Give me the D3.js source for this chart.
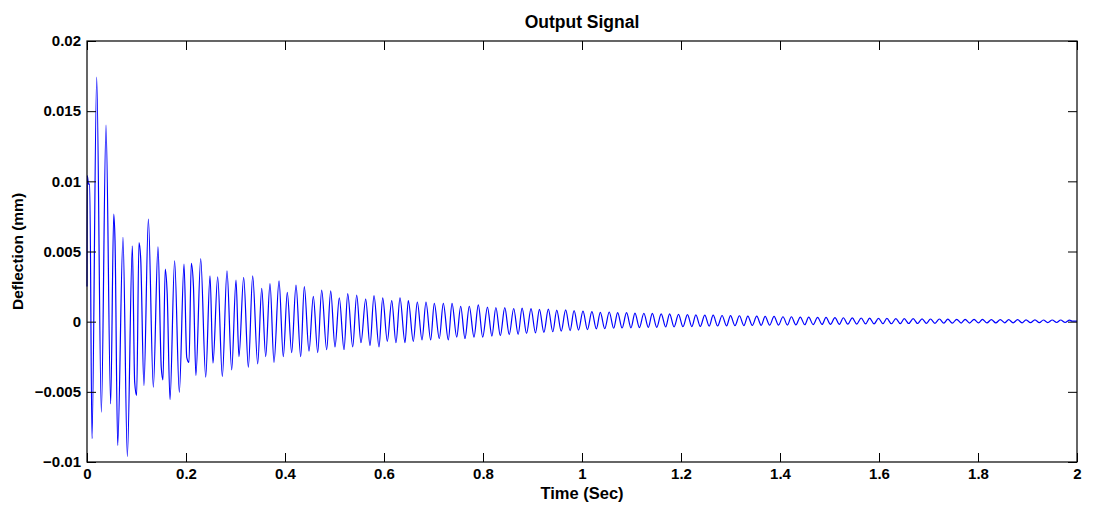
<!DOCTYPE html>
<html><head><meta charset="utf-8">
<script src="https://cdn.jsdelivr.net/npm/d3@7"></script>
<style>
body{margin:0;background:#fff}
text{font-family:"Liberation Sans",Arial,Helvetica,sans-serif;font-weight:bold;fill:#000}
</style>
</head><body>
<svg id="chart" width="1093" height="510"></svg>
<script>
// ---- data ----
const xTicks = [0, 0.2, 0.4, 0.6, 0.8, 1, 1.2, 1.4, 1.6, 1.8, 2];
const xTickLabels = ["0", "0.2", "0.4", "0.6", "0.8", "1", "1.2", "1.4", "1.6", "1.8", "2"];
const yTicks = [-0.01, -0.005, 0, 0.005, 0.01, 0.015, 0.02];
const yTickLabels = ["\u22120.01", "\u22120.005", "0", "0.005", "0.01", "0.015", "0.02"];

// turning points of the output signal, [time (s), deflection (mm)]
const attackSegment = [
  [0, 0.0025], [0.0006, 0.0104], [0.003, 0.0098], [0.0055, 0.0098], [0.0101, -0.00834],
  [0.0196, 0.01743], [0.029, -0.00645], [0.0384, 0.0140], [0.0478, -0.00586],
  [0.054, 0.00766], [0.0566, 0.00576], [0.062, -0.00882], [0.0727, 0.0060],
  [0.0815, -0.0096], [0.0916, 0.0054], [0.0963, -0.00431], [0.1003, -0.00526],
  [0.105, 0.00564], [0.1085, 0.00448], [0.115, -0.00455], [0.124, 0.0073],
  [0.134, -0.00467], [0.1434, 0.00533], [0.150, -0.00325], [0.1535, -0.00415],
  [0.158, 0.00375], [0.162, 0.0020], [0.1677, -0.00555], [0.177, 0.00434],
  [0.1865, -0.00503], [0.196, 0.0041], [0.2015, -0.00254], [0.206, -0.0029],
  [0.2107, 0.00415], [0.215, 0.00256], [0.220, -0.00384], [0.2297, 0.0045],
  [0.2398, -0.00396], [0.2485, 0.00327], [0.2545, -0.00296], [0.264, 0.0032],
  [0.2734, -0.00391], [0.2828, 0.00363], [0.2923, -0.00344], [0.301, 0.00296],
  [0.307, -0.00249], [0.3165, 0.00315], [0.326, -0.00325], [0.3347, 0.00327],
  [0.3448, -0.00301], [0.353, 0.00237], [0.361, -0.00249], [0.3697, 0.00272],
  [0.3778, -0.0029]
];
const midSegment = [
  [0.3879, 0.0029], [0.3966, -0.0025], [0.4046, 0.00209], [0.4135, -0.0022],
  [0.4222, 0.0026], [0.4317, -0.0025], [0.439, 0.0025], [0.4485, -0.0021],
  [0.4572, 0.0018], [0.4661, -0.0022], [0.4741, 0.00225], [0.4842, -0.002],
  [0.4923, 0.0022], [0.501, -0.0018], [0.5097, 0.0017], [0.5192, -0.002],
  [0.5267, 0.002], [0.5368, -0.0018], [0.5448, 0.0019], [0.5535, -0.0015],
  [0.563, 0.0016], [0.5717, -0.0017], [0.5798, 0.00185], [0.5899, -0.0018],
  [0.5974, 0.0017], [0.6067, -0.0014], [0.6156, 0.0015], [0.6242, -0.0015],
  [0.6323, 0.0017], [0.6424, -0.0015], [0.6491, 0.0015], [0.6592, -0.0014],
  [0.6673, 0.0014], [0.6768, -0.0013], [0.6848, 0.0014], [0.6943, -0.0013],
  [0.7016, 0.0013], [0.7117, -0.0012], [0.7198, 0.0013], [0.7299, -0.0013],
  [0.7374, 0.0013], [0.7469, -0.0011], [0.7549, 0.0011], [0.7636, -0.0012],
  [0.7723, 0.0011], [0.7818, -0.0011], [0.7905, 0.0012], [0.7994, -0.0011]
];
const tailSegment = [
  [0.809, 0.00104], [0.818, -0.00103], [0.826, 0.00101], [0.835, -0.00100],
  [0.844, 0.00100], [0.853, -0.00092], [0.862, 0.00094], [0.871, -0.00090],
  [0.879, 0.00096], [0.888, -0.00084], [0.897, 0.00093], [0.906, -0.00080],
  [0.914, 0.00088], [0.923, -0.00077], [0.932, 0.00089], [0.941, -0.00072],
  [0.949, 0.00082], [0.958, -0.00068], [0.967, 0.00084], [0.976, -0.00064],
  [0.984, 0.00078], [0.993, -0.00060], [1.002, 0.00075], [1.011, -0.00056],
  [1.020, 0.00071], [1.029, -0.00052], [1.037, 0.00066], [1.046, -0.00050],
  [1.055, 0.00069], [1.064, -0.00047], [1.072, 0.00065], [1.081, -0.00045],
  [1.090, 0.00064], [1.099, -0.00044], [1.107, 0.00061], [1.116, -0.00042],
  [1.125, 0.00060], [1.134, -0.00041], [1.142, 0.00059], [1.151, -0.00040],
  [1.160, 0.00055], [1.169, -0.00038], [1.177, 0.00056], [1.186, -0.00037],
  [1.195, 0.00052], [1.204, -0.00036], [1.213, 0.00050], [1.222, -0.00035],
  [1.230, 0.00049], [1.239, -0.00034], [1.248, 0.00047], [1.257, -0.00032],
  [1.265, 0.00046], [1.274, -0.00031], [1.283, 0.00044], [1.292, -0.00030],
  [1.300, 0.00043], [1.309, -0.00029], [1.318, 0.00042], [1.327, -0.00028],
  [1.335, 0.00040], [1.344, -0.00027], [1.353, 0.00039], [1.362, -0.00026],
  [1.370, 0.00038], [1.379, -0.00025], [1.388, 0.00037], [1.397, -0.00024],
  [1.406, 0.00035], [1.415, -0.00024], [1.423, 0.00035], [1.432, -0.00023],
  [1.441, 0.00033], [1.450, -0.00022], [1.458, 0.00032], [1.467, -0.00021],
  [1.476, 0.00031], [1.485, -0.00020], [1.493, 0.00030], [1.502, -0.00019],
  [1.511, 0.00029], [1.520, -0.00019], [1.528, 0.00028], [1.537, -0.00018],
  [1.546, 0.00027], [1.555, -0.00017], [1.564, 0.00026], [1.573, -0.00016],
  [1.581, 0.00025], [1.590, -0.00016], [1.599, 0.00024], [1.608, -0.00015],
  [1.616, 0.00023], [1.625, -0.00015], [1.634, 0.00022], [1.643, -0.00014],
  [1.651, 0.00021], [1.660, -0.00013], [1.669, 0.00021], [1.678, -0.00013],
  [1.687, 0.00020], [1.696, -0.00012], [1.704, 0.00019], [1.713, -0.00012],
  [1.722, 0.00019], [1.731, -0.00011], [1.739, 0.00018], [1.748, -0.00011],
  [1.757, 0.00017], [1.766, -0.00010], [1.774, 0.00017], [1.783, -0.00010],
  [1.792, 0.00016], [1.801, -0.00009], [1.809, 0.00016], [1.818, -0.00009],
  [1.827, 0.00015], [1.836, -0.00009], [1.845, 0.00015], [1.854, -0.00008],
  [1.862, 0.00014], [1.871, -0.00008], [1.880, 0.00014], [1.889, -0.00008],
  [1.897, 0.00013], [1.906, -0.00007], [1.915, 0.00013], [1.924, -0.00007],
  [1.932, 0.00012], [1.941, -0.00007], [1.950, 0.00012], [1.959, -0.00006],
  [1.967, 0.00012], [1.976, -0.00006], [1.985, 0.00011], [1.990, 0.00004],
  [2.0, 0.00004]
];

// ---- layout ----
const svg = d3.select("#chart");
const plot = {left: 87, right: 1077, top: 41, bottom: 462};
const x = d3.scaleLinear().domain([0, 2]).range([plot.left, plot.right]);
const y = d3.scaleLinear().domain([-0.01, 0.02]).range([plot.bottom, plot.top]);
const tickLen = 9;
const fontSize = 15;

// signal
const signal = attackSegment.concat(midSegment, tailSegment);
const line = d3.line().x(d => x(d[0])).y(d => y(d[1])).curve(d3.curveMonotoneX);
svg.append("path")
  .datum(signal)
  .attr("d", line)
  .attr("fill", "none")
  .attr("stroke", "#0000ff")
  .attr("stroke-width", 1.2);

// axes
function styleAxis(g) {
  g.select(".domain").remove();
  g.selectAll(".tick line").attr("stroke", "#000").attr("stroke-width", 1);
  g.selectAll(".tick text").attr("font-size", fontSize).attr("fill", "#000")
    .attr("font-family", "'Liberation Sans', Arial, sans-serif").attr("font-weight", "bold");
}
svg.append("g").attr("transform", `translate(0,${plot.bottom})`)
  .call(d3.axisBottom(x).tickValues(xTicks).tickSize(-tickLen).tickPadding(6)
    .tickFormat((d, i) => xTickLabels[i]))
  .call(styleAxis);
svg.append("g").attr("transform", `translate(0,${plot.top})`)
  .call(d3.axisTop(x).tickValues(xTicks).tickSize(-tickLen).tickFormat(""))
  .call(styleAxis);
svg.append("g").attr("transform", `translate(${plot.left},0)`)
  .call(d3.axisLeft(y).tickValues(yTicks).tickSize(-tickLen).tickPadding(6)
    .tickFormat((d, i) => yTickLabels[i]))
  .call(styleAxis);
svg.append("g").attr("transform", `translate(${plot.right},0)`)
  .call(d3.axisRight(y).tickValues(yTicks).tickSize(-tickLen).tickFormat(""))
  .call(styleAxis);

// box
svg.append("rect")
  .attr("x", plot.left).attr("y", plot.top)
  .attr("width", plot.right - plot.left).attr("height", plot.bottom - plot.top)
  .attr("fill", "none").attr("stroke", "#000").attr("stroke-width", 1.2);

// titles
svg.append("text").attr("x", (plot.left + plot.right) / 2).attr("y", 28)
  .attr("text-anchor", "middle").attr("font-size", 17.5).text("Output Signal");
svg.append("text").attr("x", (plot.left + plot.right) / 2).attr("y", 499)
  .attr("text-anchor", "middle").attr("font-size", 16.5).text("Time (Sec)");
svg.append("text").attr("transform", `translate(23,${(plot.top + plot.bottom) / 2}) rotate(-90)`)
  .attr("text-anchor", "middle").attr("font-size", 15.5).text("Deflection (mm)");
</script>
</body></html>
